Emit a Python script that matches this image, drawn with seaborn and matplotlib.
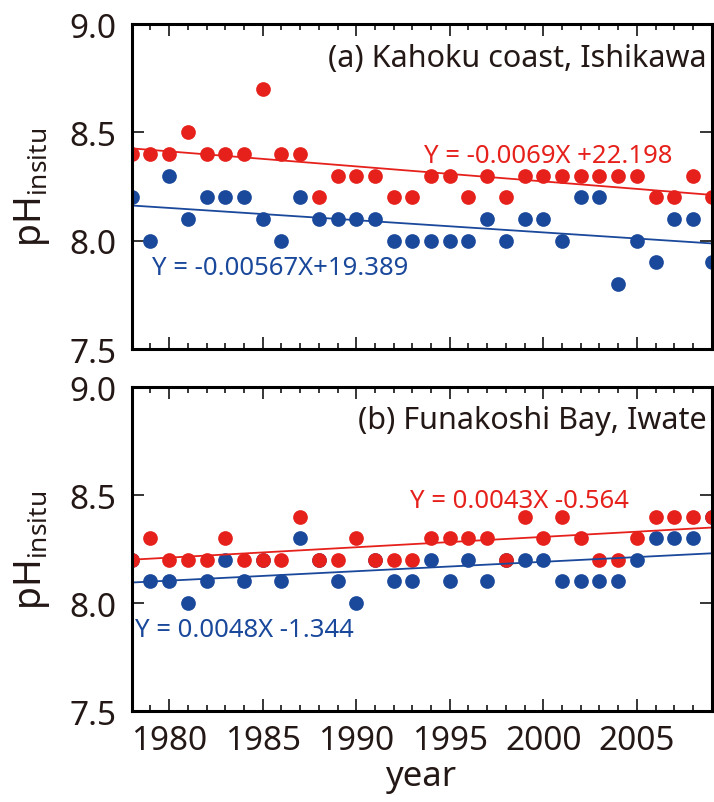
import numpy as np
import pandas as pd
import seaborn as sns
import matplotlib.pyplot as plt
from matplotlib.ticker import MultipleLocator

# yearly pH values (red and blue series per site)
years = list(range(1978, 2010))
kahoku_red = [8.4, 8.4, 8.4, 8.5, 8.4, 8.4, 8.4, 8.7, 8.4, 8.4,
              8.2, 8.3, 8.3, 8.3, 8.2, 8.2, 8.3, 8.3, 8.2, 8.3,
              8.2, 8.3, 8.3, 8.3, 8.3, 8.3, 8.3, 8.3, 8.2, 8.2,
              8.3, 8.2]
kahoku_blue = [8.2, 8.0, 8.3, 8.1, 8.2, 8.2, 8.2, 8.1, 8.0, 8.2,
               8.1, 8.1, 8.1, 8.1, 8.0, 8.0, 8.0, 8.0, 8.0, 8.1,
               8.0, 8.1, 8.1, 8.0, 8.2, 8.2, 7.8, 8.0, 7.9, 8.1,
               8.1, 7.9]
funakoshi_red = [8.2, 8.3, 8.2, 8.2, 8.2, 8.3, 8.2, 8.2, 8.2, 8.4,
                 8.2, 8.2, 8.3, 8.2, 8.2, 8.2, 8.3, 8.3, 8.3, 8.3,
                 8.2, 8.4, 8.3, 8.4, 8.3, 8.2, 8.2, 8.3, 8.4, 8.4,
                 8.4, 8.4]
funakoshi_blue = [8.2, 8.1, 8.1, 8.0, 8.1, 8.2, 8.1, 8.2, 8.1, 8.3,
                  8.2, 8.1, 8.0, 8.2, 8.1, 8.1, 8.2, 8.1, 8.2, 8.1,
                  8.2, 8.2, 8.2, 8.1, 8.1, 8.1, 8.1, 8.2, 8.3, 8.3,
                  8.3, 8.4]

panel_titles = ['(a) Kahoku coast, Ishikawa', '(b) Funakoshi Bay, Iwate']
eq_red = ['Y = -0.0069X +22.198', 'Y = 0.0043X -0.564']
eq_blue = ['Y = -0.00567X+19.389', 'Y = 0.0048X -1.344']

RED = '#E6211C'
BLUE = '#1A489B'
INK = '#231815'

sns.set_style('ticks')
plt.rcParams['font.family'] = ['Noto Sans', 'DejaVu Sans']
plt.rcParams['mathtext.fontset'] = 'custom'
plt.rcParams['mathtext.rm'] = 'Noto Sans'
plt.rcParams['mathtext.it'] = 'Noto Sans:italic'

fig = plt.figure(figsize=(7.14, 8.03), dpi=100)
ax_a = fig.add_axes([0.1845, 0.5641, 0.8123, 0.4047])
ax_b = fig.add_axes([0.1845, 0.1133, 0.8123, 0.4035])


def draw_panel(ax, red, blue, title, txt_red, txt_blue, pos_red, pos_blue, show_x):
    df = pd.DataFrame({'year': years, 'red': red, 'blue': blue})
    sns.regplot(data=df, x='year', y='blue', ax=ax, ci=None, color=BLUE,
                scatter_kws={'s': 112, 'linewidths': 0, 'alpha': 1},
                line_kws={'lw': 1.3})
    sns.regplot(data=df, x='year', y='red', ax=ax, ci=None, color=RED,
                scatter_kws={'s': 112, 'linewidths': 0, 'alpha': 1},
                line_kws={'lw': 1.3})
    ax.set_xlim(1978, 2009)
    ax.set_ylim(7.5, 9.0)
    ax.xaxis.set_major_locator(MultipleLocator(5))
    ax.xaxis.set_minor_locator(MultipleLocator(1))
    ax.yaxis.set_major_locator(MultipleLocator(0.5))
    ax.tick_params(which='both', direction='in', top=True, right=True,
                   colors='black', labelcolor=INK, width=1.1)
    ax.tick_params(which='major', length=8.5, labelsize=24, pad=9)
    ax.tick_params(which='minor', length=4.5)
    ax.tick_params(axis='y', pad=11)
    for sp in ax.spines.values():
        sp.set_linewidth(2.2)
        sp.set_color('black')
    if not show_x:
        ax.tick_params(axis='x', labelbottom=False)
        ax.set_xlabel('')
    else:
        ax.set_xlabel('year', fontsize=25, color=INK, labelpad=2)
    ax.set_ylabel(r'pH$_{\rm insitu}$', fontsize=27, color=INK)
    ax.yaxis.set_label_coords(-0.137, 0.5)
    ax.text(0.992, 0.872, title, transform=ax.transAxes, ha='right',
            va='baseline', fontsize=22, color=INK)
    ax.text(pos_red[0], pos_red[1], txt_red, ha='left', va='baseline',
            fontsize=18.5, color=RED)
    ax.text(pos_blue[0], pos_blue[1], txt_blue, ha='left', va='baseline',
            fontsize=18.5, color=BLUE)


draw_panel(ax_a, kahoku_red, kahoku_blue, panel_titles[0], eq_red[0], eq_blue[0],
           (1993.6, 8.362), (1979.06, 7.846), False)
draw_panel(ax_b, funakoshi_red, funakoshi_blue, panel_titles[1], eq_red[1], eq_blue[1],
           (1992.9, 8.444), (1978.18, 7.847), True)

fig.savefig('out.png', dpi=100)
